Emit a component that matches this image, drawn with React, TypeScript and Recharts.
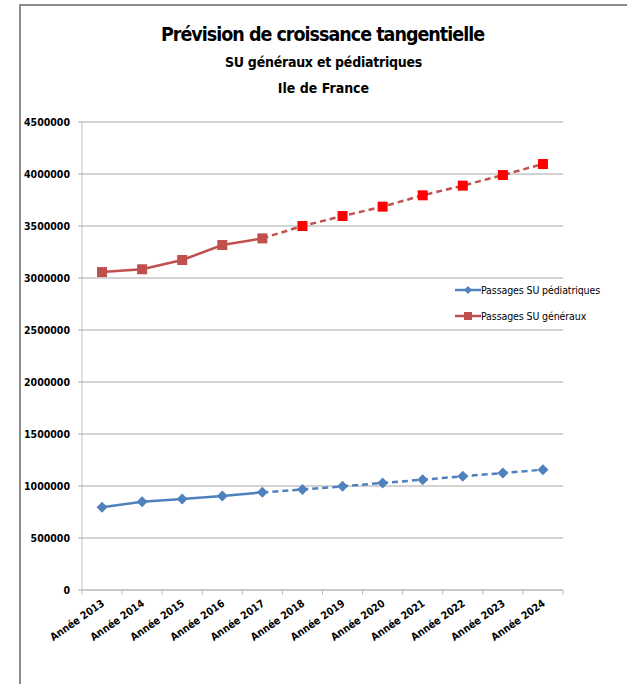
import { LineChart, Line, XAxis, YAxis, CartesianGrid } from "recharts";

// ---------------------------------------------------------------------------
// Data
// ---------------------------------------------------------------------------
const years = [
  "Année 2013", "Année 2014", "Année 2015", "Année 2016", "Année 2017", "Année 2018",
  "Année 2019", "Année 2020", "Année 2021", "Année 2022", "Année 2023", "Année 2024",
];

// Observed (solid) and projected (dashed) values, projection starts at 2017
const pediatricActual = [795000, 849000, 875000, 904000, 939000, null, null, null, null, null, null, null];
const pediatricForecast = [null, null, null, null, 939000, 966000, 997000, 1029000, 1061000, 1093000, 1125000, 1157000];
const generalActual = [3057000, 3084000, 3173000, 3317000, 3381000, null, null, null, null, null, null, null];
const generalForecast = [null, null, null, null, 3381000, 3500000, 3596000, 3686000, 3795000, 3888000, 3990000, 4096000];

const yTicks = [0, 500000, 1000000, 1500000, 2000000, 2500000, 3000000, 3500000, 4000000, 4500000];

const data = years.map((year, i) => ({
  year,
  pedActual: pediatricActual[i],
  pedForecast: pediatricForecast[i],
  genActual: generalActual[i],
  genForecast: generalForecast[i],
}));

// ---------------------------------------------------------------------------
// Layout / style
// ---------------------------------------------------------------------------
const W = 627;
const H = 684;
const MARGIN = { top: 122, right: 64, bottom: 0, left: 0 };
const X_AXIS_H = 94;
const Y_AXIS_W = 82;
const PLOT_W = W - MARGIN.right - MARGIN.left - Y_AXIS_W;
const BAND = PLOT_W / years.length;

const FONT = "'Liberation Sans Narrow', 'DejaVu Sans Condensed', 'Noto Sans', sans-serif";
const BLUE = "#4F81BD";
const RED = "#C0504D";
const RED_BRIGHT = "#FF0000";
const GRID = "#A6A6A6";
const AXIS = "#BFBFBF";
const FORECAST_START = 4;

// ---------------------------------------------------------------------------
// Markers
// ---------------------------------------------------------------------------
function Square({ cx, cy, fill, size = 10 }: { cx?: number; cy?: number; fill: string; size?: number }) {
  if (cx == null || cy == null) return null;
  return <rect x={cx - size / 2} y={cy - size / 2} width={size} height={size} fill={fill} />;
}

function Diamond({ cx, cy, fill, r = 5.5 }: { cx?: number; cy?: number; fill: string; r?: number }) {
  if (cx == null || cy == null) return null;
  return <path d={`M${cx},${cy - r} L${cx + r},${cy} L${cx},${cy + r} L${cx - r},${cy} Z`} fill={fill} />;
}

// ---------------------------------------------------------------------------
// Ticks
// ---------------------------------------------------------------------------
function XTick(props: any) {
  const { x, y, payload, index } = props;
  return (
    <g>
      <line x1={x - BAND / 2} y1={y - 8} x2={x - BAND / 2} y2={y - 3} stroke={AXIS} />
      {index === years.length - 1 && (
        <line x1={x + BAND / 2} y1={y - 8} x2={x + BAND / 2} y2={y - 3} stroke={AXIS} />
      )}
      <text
        transform={`translate(${x + 3},${y + 7}) rotate(-35)`}
        textAnchor="end"
        fontFamily={FONT}
        fontSize={10.5}
        fontWeight="bold"
        fill="#000"
      >
        {payload.value}
      </text>
    </g>
  );
}

function YTick(props: any) {
  const { x, y, payload } = props;
  return (
    <text x={x} y={y} dy={4} textAnchor="end" fontFamily={FONT} fontSize={10.5} fontWeight="bold" fill="#000">
      {payload.value}
    </text>
  );
}

// ---------------------------------------------------------------------------
// Legend
// ---------------------------------------------------------------------------
function LegendRow({ color, label, marker, top }: { color: string; label: string; marker: "d" | "s"; top: number }) {
  return (
    <div style={{ position: "absolute", left: 455, top, display: "flex", alignItems: "center", height: 14 }}>
      <svg width={26} height={14}>
        <line x1={0} y1={7} x2={26} y2={7} stroke={color} strokeWidth={2.5} />
        {marker === "d" ? <Diamond cx={13} cy={7} fill={color} r={4} /> : <Square cx={13} cy={7} fill={color} size={8} />}
      </svg>
      <span style={{ fontFamily: FONT, fontSize: 10.5, color: "#000", whiteSpace: "nowrap", letterSpacing: -0.1 }}>
        {label}
      </span>
    </div>
  );
}

// ---------------------------------------------------------------------------
// App
// ---------------------------------------------------------------------------
export default function App() {
  return (
    <div style={{ position: "absolute", left: 0, top: 0, width: W, height: H, background: "#fff", overflow: "hidden" }}>
      {/* frame */}
      <div
        style={{
          position: "absolute",
          left: 19,
          top: 4,
          width: W,
          height: H,
          borderLeft: "2px solid #8C8C8C",
          borderTop: "2px solid #8C8C8C",
        }}
      />

      {/* titles */}
      <div style={{ position: "absolute", left: 0, width: W, top: 20, textAlign: "center", fontFamily: FONT }}>
        <div style={{ fontSize: 19.5, fontWeight: "bold", lineHeight: "29px", marginLeft: 18, letterSpacing: -1 }}>
          Prévision de croissance tangentielle
        </div>
        <div style={{ fontSize: 14, fontWeight: "bold", lineHeight: "26px", marginLeft: 20, letterSpacing: -0.25 }}>
          SU généraux et pédiatriques
        </div>
        <div style={{ fontSize: 14, fontWeight: "bold", lineHeight: "26px", marginLeft: 20 }}>Ile de France</div>
      </div>

      <div style={{ position: "absolute", left: 0, top: 0 }}>
        <LineChart width={W} height={H} data={data} margin={MARGIN}>
          <CartesianGrid vertical={false} stroke={GRID} />
          <XAxis
            dataKey="year"
            interval={0}
            padding={{ left: BAND / 2, right: BAND / 2 }}
            tickLine={false}
            axisLine={{ stroke: AXIS }}
            tick={<XTick />}
            height={X_AXIS_H}
          />
          <YAxis
            width={Y_AXIS_W}
            domain={[0, 4500000]}
            ticks={yTicks}
            interval={0}
            tickSize={4}
            tickMargin={8}
            tickLine={{ stroke: GRID }}
            axisLine={{ stroke: AXIS }}
            tick={<YTick />}
          />

          {/* projected (dashed) first so observed markers sit on top */}
          <Line
            dataKey="pedForecast"
            stroke={BLUE}
            strokeWidth={2.5}
            strokeDasharray="6 4"
            isAnimationActive={false}
            connectNulls={false}
            dot={(p: any) =>
              p.index === FORECAST_START ? <g key={p.key} /> : <Diamond key={p.key} cx={p.cx} cy={p.cy} fill={BLUE} />
            }
          />
          <Line
            dataKey="genForecast"
            stroke={RED}
            strokeWidth={2.5}
            strokeDasharray="6 4"
            isAnimationActive={false}
            connectNulls={false}
            dot={(p: any) =>
              p.index === FORECAST_START ? <g key={p.key} /> : <Square key={p.key} cx={p.cx} cy={p.cy} fill={RED_BRIGHT} />
            }
          />
          <Line
            dataKey="pedActual"
            stroke={BLUE}
            strokeWidth={2.5}
            isAnimationActive={false}
            connectNulls={false}
            dot={(p: any) => <Diamond key={p.key} cx={p.cx} cy={p.cy} fill={BLUE} />}
          />
          <Line
            dataKey="genActual"
            stroke={RED}
            strokeWidth={2.5}
            isAnimationActive={false}
            connectNulls={false}
            dot={(p: any) => <Square key={p.key} cx={p.cx} cy={p.cy} fill={RED} />}
          />
        </LineChart>
      </div>

      <LegendRow color={BLUE} label="Passages SU pédiatriques" marker="d" top={283} />
      <LegendRow color={RED} label="Passages SU généraux" marker="s" top={309} />
    </div>
  );
}
